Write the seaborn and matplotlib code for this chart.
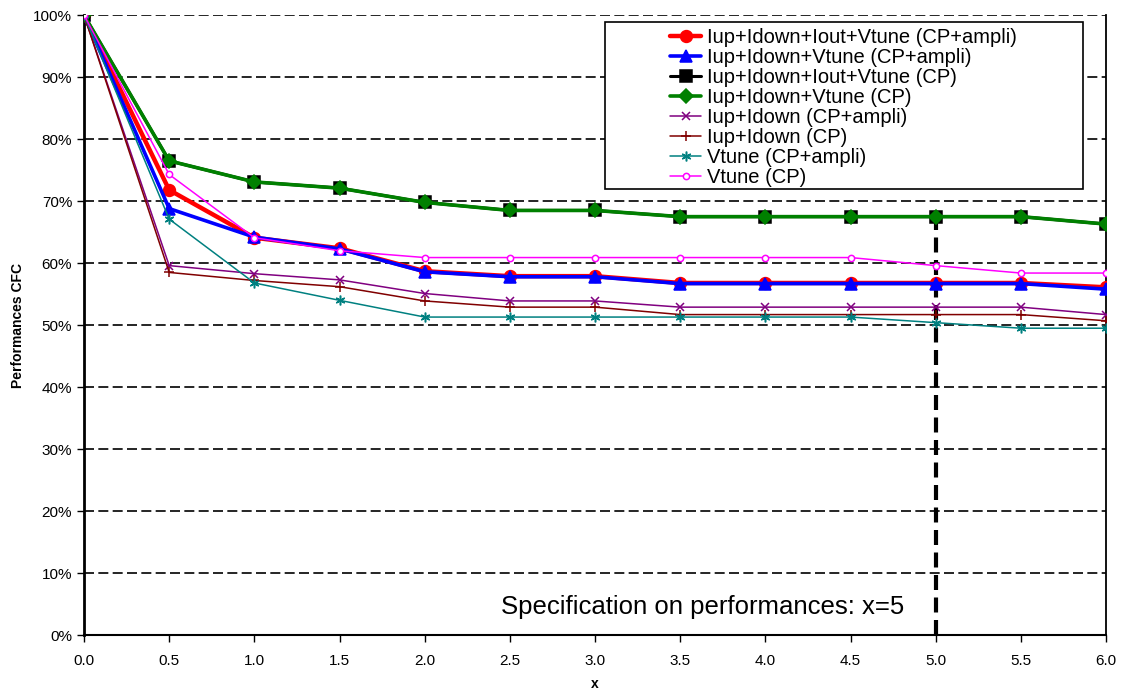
import numpy as np
import pandas as pd
import matplotlib
matplotlib.use("Agg")
import matplotlib.pyplot as plt
from matplotlib.ticker import PercentFormatter, MultipleLocator, FormatStrFormatter
from matplotlib.patches import Rectangle
import seaborn as sns

# data
x_vals = [0.0, 0.5, 1.0, 1.5, 2.0, 2.5, 3.0, 3.5, 4.0, 4.5, 5.0, 5.5, 6.0]

all_ampli = [1.00, 0.718, 0.641, 0.624, 0.587, 0.579, 0.579, 0.568, 0.568, 0.568, 0.568, 0.568, 0.561]
no_iout_ampli = [1.00, 0.688, 0.642, 0.623, 0.586, 0.578, 0.578, 0.567, 0.567, 0.567, 0.567, 0.567, 0.558]
all_cp = [1.00, 0.765, 0.731, 0.721, 0.698, 0.685, 0.685, 0.675, 0.675, 0.675, 0.675, 0.675, 0.663]
no_iout_cp = [1.00, 0.765, 0.731, 0.721, 0.698, 0.685, 0.685, 0.675, 0.675, 0.675, 0.675, 0.675, 0.663]
iup_idown_ampli = [1.00, 0.596, 0.583, 0.573, 0.551, 0.539, 0.539, 0.529, 0.529, 0.529, 0.529, 0.529, 0.517]
iup_idown_cp = [1.00, 0.585, 0.572, 0.562, 0.539, 0.529, 0.529, 0.517, 0.517, 0.517, 0.517, 0.517, 0.507]
vtune_ampli = [1.00, 0.671, 0.568, 0.540, 0.513, 0.513, 0.513, 0.513, 0.513, 0.513, 0.504, 0.495, 0.495]
vtune_cp = [1.00, 0.743, 0.641, 0.620, 0.609, 0.609, 0.609, 0.609, 0.609, 0.609, 0.596, 0.584, 0.584]

labels = ["Iup+Idown+Iout+Vtune (CP+ampli)", "Iup+Idown+Vtune (CP+ampli)",
          "Iup+Idown+Iout+Vtune (CP)", "Iup+Idown+Vtune (CP)",
          "Iup+Idown (CP+ampli)", "Iup+Idown (CP)",
          "Vtune (CP+ampli)", "Vtune (CP)"]
spec_x = 5.0

series = [all_ampli, no_iout_ampli, all_cp, no_iout_cp,
          iup_idown_ampli, iup_idown_cp, vtune_ampli, vtune_cp]

# style per series: color, linewidth, marker, markersize, face color
styles = [
    ("#ff0000", 3.2, "o", 8.5, "#ff0000"),
    ("#0000ff", 2.6, "^", 8.5, "#0000ff"),
    ("#000000", 2.2, "s", 8, "#000000"),
    ("#008000", 2.6, "D", 7.5, "#008000"),
    ("#800080", 1.1, "x", 6, "#800080"),
    ("#800000", 1.1, "+", 7, "#800000"),
    ("#008080", 1.1, (6, 2, 0), 7, "#008080"),
    ("#ff00ff", 1.1, "o", 4.5, "white"),
]

sns.set_style("ticks")
plt.rcParams['font.family'] = ['Liberation Sans', 'DejaVu Sans']
plt.rcParams.update({"text.color": "black", "axes.labelcolor": "black",
                     "xtick.color": "black", "ytick.color": "black"})

fig = plt.figure(figsize=(11.25, 6.91), dpi=100)
ax = fig.add_axes([0.0747, 0.081, 0.9084, 0.897])

for vals, lab, (c, lw, m, ms, fc) in zip(series, labels, styles):
    sns.lineplot(x=x_vals, y=vals, ax=ax, color=c, linewidth=lw, marker=m,
                 markersize=ms, markerfacecolor=fc, markeredgecolor=c,
                 markeredgewidth=1.1, label=lab, zorder=3)

# specification line, up to the CP curve
spec_top = no_iout_cp[x_vals.index(spec_x)]
ax.plot([spec_x, spec_x], [0, spec_top], color="black", lw=3,
        linestyle=(0, (3.6, 1.8)), zorder=2)

ax.set_xlim(0, 6)
ax.set_ylim(0, 1)
ax.xaxis.set_major_locator(MultipleLocator(0.5))
ax.xaxis.set_major_formatter(FormatStrFormatter("%.1f"))
ax.yaxis.set_major_locator(MultipleLocator(0.1))
ax.yaxis.set_major_formatter(PercentFormatter(1.0, decimals=0))
ax.tick_params(axis="both", labelsize=11, length=5, width=1, direction="out", color="black")
ax.tick_params(axis="x", pad=9)
ax.grid(axis="y", color="black", linestyle=(0, (6, 2.6)), linewidth=1.2)
ax.grid(axis="x", visible=False)

ax.spines["top"].set_visible(False)
ax.spines["left"].set_linewidth(2)
ax.spines["bottom"].set_linewidth(1.5)
ax.spines["right"].set_linewidth(1.3)
for s in ax.spines.values():
    s.set_color("black")

ax.set_xlabel("x", fontsize=10, fontweight="bold", labelpad=6)
ax.set_ylabel("Performances CFC", fontsize=10, fontweight="bold", labelpad=6)

ax.text(2.45, 0.046, "Specification on performances: x=5", fontsize=18.5,
        ha="left", va="center")

# legend box
ax.add_patch(Rectangle((0.5098, 0.7194), 0.4677, 0.2693, transform=ax.transAxes,
                       facecolor="white", edgecolor="black", lw=1.2, zorder=4))
handles, labs = ax.get_legend_handles_labels()
leg = ax.legend(handles, labs, loc="upper left", bbox_to_anchor=(0.5734, 0.979),
                frameon=False, fontsize=14.5, labelspacing=0.05, handlelength=1.55,
                handletextpad=0.3, borderpad=0, borderaxespad=0)
leg.set_zorder(5)

fig.savefig("out.png", dpi=100)
